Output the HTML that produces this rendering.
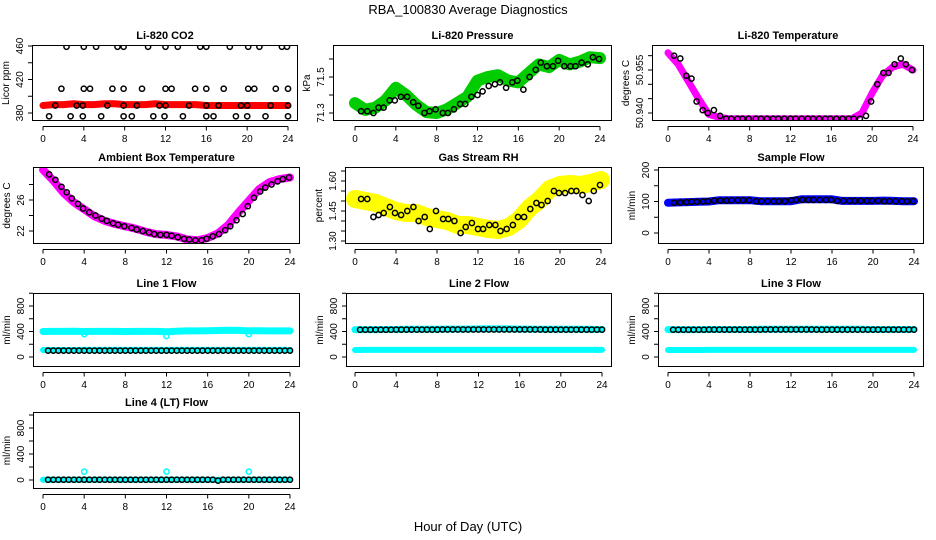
<!DOCTYPE html>
<html><head><meta charset="utf-8">
<style>
html,body{margin:0;padding:0;background:#fff;}
svg{display:block;font-family:"Liberation Sans",Arial,sans-serif;}
</style></head>
<body>
<svg id="chart" width="936" height="540" viewBox="0 0 936 540">
<text x="468" y="14" text-anchor="middle" font-size="13">RBA_100830  Average Diagnostics</text>
<text x="468" y="531" text-anchor="middle" font-size="13">Hour of Day (UTC)</text>
</svg>
<script>
// ---- shared category arrays ----
const hourlyX = [0,1,2,3,4,5,6,7,8,9,10,11,12,13,14,15,16,17,18,19,20,21,22,23,24];
const sampleHours = [0.6,1.2,1.8,2.3,2.8,3.4,3.9,4.5,5.1,5.7,6.2,6.8,7.3,7.9,8.6,9.1,9.7,10.3,10.8,11.4,12,12.5,13.1,13.7,14.2,14.8,15.4,15.9,16.5,17.1,17.7,18.2,18.8,19.4,19.9,20.5,21.1,21.6,22.2,22.8,23.3,23.9];
const halfHours = [0.5,1,1.5,2,2.5,3,3.5,4,4.5,5,5.5,6,6.5,7,7.5,8,8.5,9,9.5,10,10.5,11,11.5,12,12.5,13,13.5,14,14.5,15,15.5,16,16.5,17,17.5,18,18.5,19,19.5,20,20.5,21,21.5,22,22.5,23,23.5,24];
const xTicks = [0,4,8,12,16,20,24];

// ---- Li-820 CO2 ----
const co2Band = [389,390,390,391,390,390,391,391,390,390,390,391,390,390,390,390,389,389,389,389,389,389,389,389,389];
const co2BlackX = [2.3,4,5.2,7.3,7.9,10.3,12,13.2,15.4,16,18.3,20.1,21.2,23.4,23.9, 1.8,4,4.6,6.8,7.9,9.7,12,12.6,14.9,16,17.7,20.1,20.7,22.8,24, 1.2,3.3,3.9,6.3,7.9,9.2,11.4,12,14.3,16,17.2,19.4,20,22.3,24, 0.6,2.7,3.9,5.7,7.9,8.7,10.8,11.9,13.7,16,16.7,18.9,20,21.8,24];
const co2BlackY = [459,459,459,459,459,459,459,459,459,459,459,459,459,459,459, 409,409,409,409,409,409,409,409,409,409,409,409,409,409,409, 389,389,389,389,389,389,389,389,389,389,389,389,389,389,389, 376,376,376,376,376,376,376,376,376,376,376,376,376,376,376];
// ---- Pressure ----
const presBand = [71.355,71.317,71.33,71.37,71.44,71.40,71.345,71.305,71.30,71.32,71.355,71.39,71.48,71.50,71.51,71.48,71.47,71.52,71.57,71.555,71.595,71.57,71.585,71.61,71.605];
const presBlack = [71.31,71.31,71.30,71.33,71.33,71.37,71.37,71.39,71.39,71.36,71.34,71.30,71.31,71.32,71.30,71.30,71.32,71.35,71.35,71.39,71.40,71.42,71.45,71.46,71.47,71.44,71.47,71.48,71.43,71.50,71.54,71.58,71.56,71.56,71.59,71.56,71.56,71.56,71.58,71.57,71.61,71.60];
// ---- Li-820 Temperature ----
const tempBand = [50.961,50.957,50.951,50.945,50.9395,50.9385,50.938,50.938,50.938,50.938,50.938,50.938,50.938,50.938,50.938,50.938,50.938,50.938,50.938,50.940,50.947,50.953,50.956,50.957,50.955];
const tempBlack = [50.960,50.959,50.953,50.952,50.944,50.941,50.940,50.941,50.939,50.938,50.938,50.938,50.938,50.938,50.938,50.938,50.938,50.938,50.938,50.938,50.938,50.938,50.938,50.938,50.938,50.938,50.938,50.938,50.938,50.938,50.938,50.938,50.938,50.939,50.944,50.950,50.954,50.954,50.957,50.959,50.957,50.955];
// ---- Ambient Box Temperature ----
const ambBand = [29.9,28.5,26.9,25.7,24.8,23.9,23.3,22.9,22.6,22.3,21.9,21.6,21.5,21.3,20.9,20.8,21.1,21.7,22.8,24.4,25.9,27.4,28.3,28.7,28.9];
const ambBlack = [29.3,28.6,27.7,27.0,26.2,25.5,24.9,24.4,24.0,23.6,23.3,23.0,22.8,22.6,22.4,22.2,22.0,21.8,21.6,21.5,21.5,21.4,21.2,21.0,20.9,20.8,20.8,21.0,21.3,21.6,22.1,22.6,23.4,24.2,25.2,26.3,27.1,27.6,28.0,28.4,28.7,28.9];
// ---- Gas Stream RH ----
const rhBand = [1.51,1.50,1.49,1.47,1.45,1.44,1.44,1.42,1.41,1.40,1.38,1.38,1.37,1.36,1.355,1.37,1.405,1.465,1.505,1.56,1.58,1.585,1.58,1.59,1.605];
const rhBlack = [1.51,1.51,1.42,1.43,1.44,1.47,1.44,1.43,1.45,1.47,1.40,1.42,1.36,1.45,1.41,1.41,1.40,1.34,1.37,1.39,1.36,1.36,1.38,1.38,1.35,1.36,1.38,1.42,1.42,1.46,1.49,1.48,1.50,1.55,1.54,1.54,1.55,1.55,1.53,1.50,1.55,1.58];
// ---- Sample Flow ----
const sfBand = [96,97,98,99,100,104,104,104,104,101,101,101,101,107,107,107,107,102,102,102,102,103,102,101,101];
const sfBlack = [96,97,98,99,99,100,101,103,103,103,104,104,104,104,101,101,101,101,101,101,104,105,105,105,105,105,105,105,102,102,102,102,102,102,102,102,101,101,101,101,101,101];
// ---- Line flows ----
const l1Hi = [400,402,402,403,400,402,402,402,400,401,402,402,395,405,410,410,412,415,420,418,410,412,410,410,410];
const l1Lo = [110,110,110,110,112,112,112,112,112,112,112,112,112,112,112,112,112,112,112,112,112,112,112,112,112];
const l1Black = [100,100,100,100,100,100,100,100,100,100,100,100,100,100,100,100,100,100,100,100,100,100,100,100,100,100,100,100,100,100,100,100,100,100,100,100,100,100,100,100,100,100,100,100,100,100,100,100];
const l1DipX = [4,12,20];
const l1DipY = [360,330,360];
const l2Hi = [430,430,430,432,432,435,435,435,435,438,438,438,440,440,440,440,438,438,436,436,436,435,435,433,432];
const l2Lo = [110,112,112,112,112,112,112,112,112,112,112,112,112,112,112,112,112,112,112,112,112,112,112,112,112];
const l2Black = [428,428,428,428,428,428,428,430,430,430,430,430,430,430,430,430,432,432,432,432,432,432,432,432,432,432,432,432,432,432,432,432,432,432,432,432,430,430,430,430,430,430,430,430,430,430,430,430];
const l3Hi = [430,430,430,430,432,432,432,432,432,434,434,434,436,436,436,436,434,434,434,434,432,432,432,432,432];
const l3Lo = [110,110,110,110,112,112,112,112,112,112,112,112,112,112,112,112,112,112,112,112,112,112,112,112,112];
const l3Black = [428,428,428,428,428,428,428,430,430,430,430,430,430,430,430,430,430,430,432,432,432,432,432,432,432,432,432,432,430,430,430,430,430,430,430,430,430,430,430,430,430,430,430,430,430,430,430,430];
const l4Band = [5,5,5,5,5,5,5,5,5,5,5,5,5,5,5,5,5,5,5,5,5,5,5,5,5];
const l4Black = [5,5,5,5,5,5,5,5,5,5,5,5,5,5,5,5,5,5,5,5,5,5,5,5,5,5,5,5,5,5,5,5,5,-10,5,5,5,5,5,5,5,5,5,5,5,5,5,5];
const l4SpikeX = [4,12,20];
const l4SpikeY = [130,130,130];

const svg = document.getElementById('chart');
const NS = 'http://www.w3.org/2000/svg';
function mk(tag, attrs, parent){
  const e = document.createElementNS(NS, tag);
  for (const k in attrs) e.setAttribute(k, attrs[k]);
  (parent||svg).appendChild(e);
  return e;
}

function panel(cfg){
  const g = mk('g', {});
  
  
  const xs = h => cfg.x0 + (cfg.x24 - cfg.x0) * h / 24;
  const ys = v => cfg.p1 + (v - cfg.v1) * (cfg.p2 - cfg.p1) / (cfg.v2 - cfg.v1);
  const t = mk('text', {x:(cfg.l+cfg.r)/2, y:cfg.t-6, 'text-anchor':'middle', 'font-size':11, 'font-weight':'bold'}, g);
  t.textContent = cfg.title;
  
  
  const cid = 'clip-' + cfg.name;
  const cp = mk('clipPath', {id: cid}, g);
  mk('rect', {x:cfg.l, y:cfg.t, width:cfg.r-cfg.l, height:cfg.b-cfg.t}, cp);
  const plot = mk('g', {'clip-path':'url(#'+cid+')'}, g);
  (cfg.bands||[]).forEach(bd => {
    const pts = bd.x.map((h,i) => xs(h).toFixed(1)+','+ys(bd.y[i]).toFixed(1)).join(' ');
    const pl = mk('polyline', {points:pts, fill:'none', stroke:bd.color, 'stroke-width':bd.w, 'stroke-linejoin':'round', 'stroke-linecap':'round'}, plot);
    
    
  });
  (cfg.points||[]).forEach(ps => {
    ps.x.forEach((h,i) => {
      const c = mk('circle', {cx:xs(h).toFixed(1), cy:ys(ps.y[i]).toFixed(1), r:2.6, fill:'none', stroke:ps.color, 'stroke-width':1.5}, plot);
      
      
    });
  });
  const bx = mk('rect', {x:cfg.l+0.5, y:cfg.t+0.5, width:cfg.r-cfg.l-1, height:cfg.b-cfg.t-1, fill:'none', stroke:'#000', 'stroke-width':1}, g);
  
  
  const ax = mk('g', {}, g);
  
  
  const ay0 = cfg.b + 5.5;
  mk('line', {x1:xs(0), x2:xs(24), y1:ay0, y2:ay0, stroke:'#000'}, ax);
  xTicks.forEach(h => {
    mk('line', {x1:xs(h), x2:xs(h), y1:ay0, y2:ay0+4, stroke:'#000'}, ax);
    const tl = mk('text', {x:xs(h), y:cfg.b+21, 'text-anchor':'middle', 'font-size':10}, ax);
    tl.textContent = h;
  });
  const yax = mk('g', {}, g);
  
  
  cfg.yticks.forEach(v => {
    const y = ys(v);
    mk('line', {x1:cfg.l-4, x2:cfg.l, y1:y, y2:y, stroke:'#000'}, yax);
  });
  cfg.ylabels.forEach((lab) => {
    const y = ys(parseFloat(lab));
    const tx = cfg.l - 9;
    const tl = mk('text', {x:tx, y:y, 'text-anchor':'middle', 'font-size':10, transform:'rotate(-90 '+tx+' '+y+')'}, yax);
    tl.textContent = lab;
  });
  const yl = mk('text', {x:cfg.l-23, y:(cfg.t+cfg.b)/2, 'text-anchor':'middle', 'font-size':10, transform:'rotate(-90 '+(cfg.l-23)+' '+((cfg.t+cfg.b)/2)+')'}, yax);
  yl.textContent = cfg.ylab;
  
  
}

panel({name:'co2-panel', title:'Li-820 CO2', ylab:'Licor ppm', l:32,r:298,t:45,b:121, x0:43,x24:288,
  v1:380,p1:113,v2:460,p2:46, yticks:[380,400,420,440,460], ylabels:['380','420','460'],
  bands:[{x:hourlyX,y:co2Band,color:'#ff0000',w:7}],
  points:[{x:co2BlackX,y:co2BlackY,color:'#000'}]});
panel({name:'pressure-panel', title:'Li-820 Pressure', ylab:'kPa', l:333,r:612,t:45,b:121, x0:355,x24:600,
  v1:71.3,p1:113,v2:71.5,p2:77, yticks:[71.3,71.4,71.5,71.6], ylabels:['71.3','71.5'],
  bands:[{x:hourlyX,y:presBand,color:'#00cc00',w:12}],
  points:[{x:sampleHours,y:presBlack,color:'#000'}]});
panel({name:'li820-temperature-panel', title:'Li-820 Temperature', ylab:'degrees C', l:652,r:924,t:45,b:121, x0:668,x24:913,
  v1:50.940,p1:113,v2:50.955,p2:70, yticks:[50.940,50.945,50.950,50.955,50.960], ylabels:['50.940','50.955'],
  bands:[{x:hourlyX,y:tempBand,color:'#ff00ff',w:7}],
  points:[{x:sampleHours,y:tempBlack,color:'#000'}]});

panel({name:'ambient-temperature-panel', title:'Ambient Box Temperature', ylab:'degrees C', l:33,r:300,t:167,b:244, x0:43,x24:290,
  v1:22,p1:231,v2:26,p2:200, yticks:[22,24,26,28], ylabels:['22','26'],
  bands:[{x:hourlyX,y:ambBand,color:'#ff00ff',w:8}],
  points:[{x:sampleHours,y:ambBlack,color:'#000'}]});
panel({name:'gas-stream-rh-panel', title:'Gas Stream RH', ylab:'percent', l:345,r:612,t:167,b:244, x0:355,x24:601,
  v1:1.30,p1:241,v2:1.60,p2:181, yticks:[1.30,1.35,1.40,1.45,1.50,1.55,1.60,1.65], ylabels:['1.30','1.45','1.60'],
  bands:[{x:hourlyX,y:rhBand,color:'#ffff00',w:18}],
  points:[{x:sampleHours,y:rhBlack,color:'#000'}]});
panel({name:'sample-flow-panel', title:'Sample Flow', ylab:'ml/min', l:658,r:924,t:167,b:244, x0:668,x24:914,
  v1:0,p1:233,v2:200,p2:170, yticks:[0,50,100,150,200], ylabels:['0','100','200'],
  bands:[{x:hourlyX,y:sfBand,color:'#0000ff',w:8}],
  points:[{x:sampleHours,y:sfBlack,color:'#000'}]});

panel({name:'line1-flow-panel', title:'Line 1 Flow', ylab:'ml/min', l:33,r:300,t:293,b:367, x0:43,x24:290,
  v1:0,p1:357,v2:800,p2:306, yticks:[0,200,400,600,800,1000], ylabels:['0','400','800'],
  bands:[{x:hourlyX,y:l1Hi,color:'#00ffff',w:7},{x:hourlyX,y:l1Lo,color:'#00ffff',w:6}],
  points:[{x:halfHours,y:l1Black,color:'#000'},{x:l1DipX,y:l1DipY,color:'#00ffff'}]});
panel({name:'line2-flow-panel', title:'Line 2 Flow', ylab:'ml/min', l:346,r:612,t:293,b:367, x0:355,x24:602,
  v1:0,p1:357,v2:800,p2:306, yticks:[0,200,400,600,800,1000], ylabels:['0','400','800'],
  bands:[{x:hourlyX,y:l2Hi,color:'#00ffff',w:7},{x:hourlyX,y:l2Lo,color:'#00ffff',w:6}],
  points:[{x:halfHours,y:l2Black,color:'#000'}]});
panel({name:'line3-flow-panel', title:'Line 3 Flow', ylab:'ml/min', l:658,r:924,t:293,b:367, x0:668,x24:914,
  v1:0,p1:357,v2:800,p2:306, yticks:[0,200,400,600,800,1000], ylabels:['0','400','800'],
  bands:[{x:hourlyX,y:l3Hi,color:'#00ffff',w:7},{x:hourlyX,y:l3Lo,color:'#00ffff',w:6}],
  points:[{x:halfHours,y:l3Black,color:'#000'}]});
panel({name:'line4-flow-panel', title:'Line 4 (LT) Flow', ylab:'ml/min', l:33,r:300,t:412,b:489, x0:43,x24:290,
  v1:0,p1:480,v2:800,p2:428, yticks:[0,200,400,600,800,1000], ylabels:['0','400','800'],
  bands:[{x:hourlyX,y:l4Band,color:'#00ffff',w:6}],
  points:[{x:halfHours,y:l4Black,color:'#000'},{x:l4SpikeX,y:l4SpikeY,color:'#00ffff'}]});
</script>
</body></html>
